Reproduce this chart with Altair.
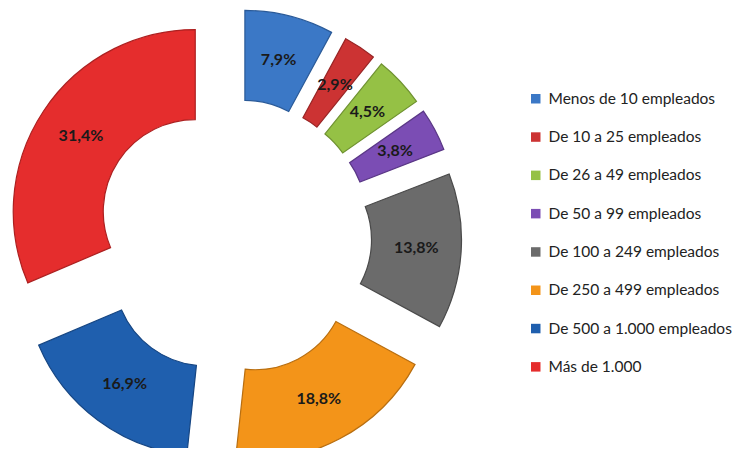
import math
import altair as alt
import pandas as pd

# ---- data ----
categorias = [
    "Menos de 10 empleados",
    "De 10 a 25 empleados",
    "De 26 a 49 empleados",
    "De 50 a 99 empleados",
    "De 100 a 249 empleados",
    "De 250 a 499 empleados",
    "De 500 a 1.000 empleados",
    "Más de 1.000",
]
valores = [7.9, 2.9, 4.5, 3.8, 13.8, 18.8, 16.9, 31.4]

colores = ["#3b78c6", "#cc3333", "#95c145", "#7b4db4", "#6b6b6b", "#f39419", "#1f5fae", "#e52d2d"]
bordes = ["#2a5a98", "#992424", "#6f9230", "#5a3786", "#4a4a4a", "#b86e10", "#164683", "#ad2020"]

df = pd.DataFrame({"cat": categorias, "val": valores, "orden": list(range(len(valores)))})

# ---- layout (pixels) ----
W, H = 726, 440
R_OUT, R_IN = 182, 92
CX, CY = 225.6, 229.0          # donut centre inside plot area
EXPLODE = 46 / R_OUT           # explode distance in radius units
LABEL_R = 137 / R_OUT

xs = alt.Scale(domain=[-CX / R_OUT, (W - CX) / R_OUT], nice=False, zero=False)
ys = alt.Scale(domain=[-(H - CY) / R_OUT, CY / R_OUT], nice=False, zero=False)
ts = alt.Scale(domain=[0, 100], range=[0, 2 * math.pi])

base = (
    alt.Chart(df)
    .transform_window(cum="sum(val)", sort=[alt.SortField("orden")], frame=[None, 0])
    .transform_calculate(
        start="datum.cum - datum.val",
        mid="(datum.cum - datum.val / 2) * 2 * PI / 100",
    )
    .transform_calculate(
        ox=f"{EXPLODE} * sin(datum.mid)",
        oy=f"{EXPLODE} * cos(datum.mid)",
        lx=f"{EXPLODE} * sin(datum.mid) + {LABEL_R} * sin(datum.mid)",
        ly=f"{EXPLODE} * cos(datum.mid) + {LABEL_R} * cos(datum.mid)",
        lab="replace(format(datum.val, '.1f'), '.', ',') + '%'",
    )
)

arcs = base.mark_arc(strokeWidth=1.2, radius=R_OUT, radius2=R_IN).encode(
    x=alt.X("ox:Q", scale=xs, axis=None),
    y=alt.Y("oy:Q", scale=ys, axis=None),
    theta=alt.Theta("start:Q", scale=ts, stack=False),
    theta2="cum:Q",
    color=alt.Color(
        "cat:N",
        scale=alt.Scale(domain=categorias, range=colores),
        sort=categorias,
        legend=alt.Legend(
            title=None,
            orient="none",
            legendX=520,
            legendY=83,
            symbolType="square",
            symbolSize=90,
            symbolStrokeWidth=0,
            labelFont="Lato",
            labelFontSize=15.5,
            labelColor="#222222",
            labelOffset=5,
            rowPadding=21.3,
            labelLimit=300,
        ),
    ),
    stroke=alt.Stroke("cat:N", scale=alt.Scale(domain=categorias, range=bordes), legend=None),
)

labels = base.mark_text(
    font="Lato", fontSize=16, fontWeight="bold", color="#1a1a1a"
).encode(
    x=alt.X("lx:Q", scale=xs, axis=None),
    y=alt.Y("ly:Q", scale=ys, axis=None),
    text="lab:N",
)

chart = (
    alt.layer(arcs, labels)
    .properties(width=W, height=H, padding=0, autosize=alt.AutoSizeParams(type="none"))
    .configure_view(stroke=None)
)

chart.save("out.html", embed_options={"renderer": "svg", "actions": False})
